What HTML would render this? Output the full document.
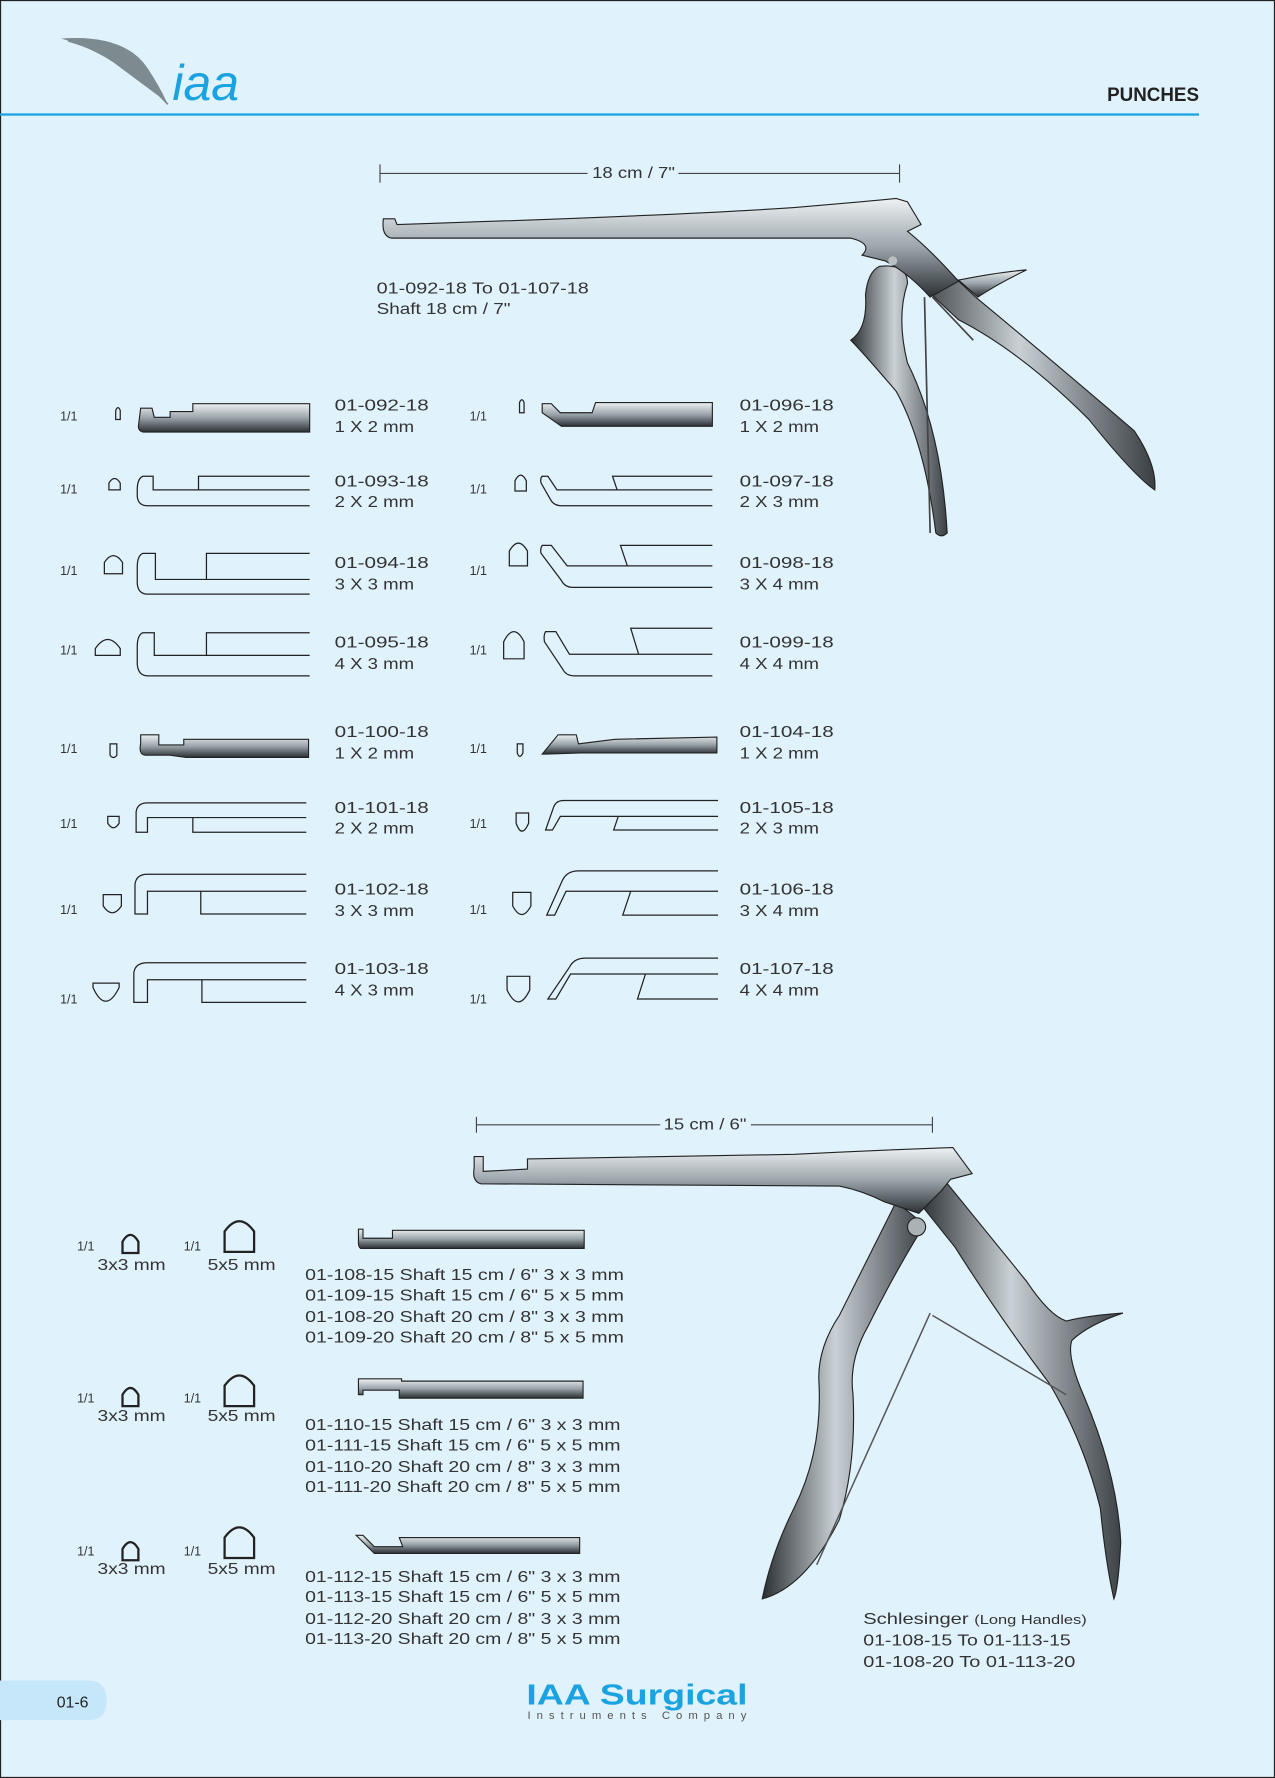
<!DOCTYPE html>
<html><head><meta charset="utf-8"><style>
html,body{margin:0;padding:0;background:#e0f2fc;}
svg{display:block}
text{font-family:"Liberation Sans",sans-serif;fill:#333;}
.l{font-size:13.5px;}
.s{font-size:11px}
.o{fill:none;stroke:#222;stroke-width:1.1}
</style></head><body>
<svg width="1275" height="1778" viewBox="0 0 1124 1568" preserveAspectRatio="none" xmlns="http://www.w3.org/2000/svg">
<defs>
<linearGradient id="g" x1="0" y1="0" x2="0" y2="1"><stop offset="0" stop-color="#eef2f4"/><stop offset=".5" stop-color="#9aa4aa"/><stop offset="1" stop-color="#2a2f33"/></linearGradient>
<linearGradient id="h" x1="0" y1="0" x2="1" y2="0"><stop offset="0" stop-color="#2a2f33"/><stop offset=".45" stop-color="#c9d1d6"/><stop offset="1" stop-color="#3a3f44"/></linearGradient>
</defs>
<rect x="0" y="0" width="1124" height="1568" fill="#e0f2fc" stroke="#222" stroke-width="2"/>
<path d="M54,34 Q110,30 130,60 Q140,75 147,90 Q120,70 100,55 Q80,42 54,34Z" fill="#7d8a90"/>
<path d="M60,36 Q110,50 148,92" stroke="#7d8a90" stroke-width="1.5" fill="none"/>
<text x="152" y="88" style="font-size:44px;font-style:italic;fill:#1aa3e0;font-family:'Liberation Sans',sans-serif">iaa</text>
<text x="976" y="89" style="font-size:17px;font-weight:bold;fill:#222" textLength="81" lengthAdjust="spacingAndGlyphs">PUNCHES</text>
<rect x="0" y="100" width="1057" height="2" fill="#1aa3e0"/>

<path d="M335,145V161M335,153H518M598,153H793M793,145V161" stroke="#444" stroke-width="1"/>
<text x="522" y="157" class="l" textLength="73" lengthAdjust="spacingAndGlyphs">18 cm / 7"</text>
<path d="M800,205 L860,262 Q930,320 1000,380 Q1020,410 1018,432 Q1000,420 960,370 Q900,310 845,282 L800,240Z" fill="url(#h)" stroke="#222"/>
<path d="M845,247 Q880,240 905,238 Q880,250 862,262Z" fill="url(#g)" stroke="#222"/>
<path d="M775,235 Q800,232 800,250 Q790,280 800,320 Q830,380 835,470 Q830,475 825,470 Q815,390 790,345 Q760,310 750,300 Q765,290 763,260 Q765,240 775,235Z" fill="url(#h)" stroke="#222"/>
<path d="M815,262 L820,470 M822,262 L858,300" stroke="#444" stroke-width="1.5" fill="none"/>
<path d="M338,193 L348,193 L350,198 Q600,190 700,183 Q760,178 790,175 L800,178 L812,198 L800,204 Q820,220 845,248 L820,262 Q800,240 780,230 L760,225 Q770,215 750,210 L345,210 Q336,208 338,193Z" fill="url(#g)" stroke="#222"/>
<circle cx="787" cy="230" r="4" fill="#b8c0c4"/>
<text x="332" y="259" class="l" textLength="187" lengthAdjust="spacingAndGlyphs">01-092-18 To 01-107-18</text>
<text x="332" y="277" class="l" textLength="118" lengthAdjust="spacingAndGlyphs">Shaft 18 cm / 7"</text>

<g>
<text x="53" y="371" class="s">1/1</text><text x="53" y="435" class="s">1/1</text><text x="53" y="507" class="s">1/1</text><text x="53" y="577" class="s">1/1</text>
<text x="53" y="664" class="s">1/1</text><text x="53" y="730" class="s">1/1</text><text x="53" y="806" class="s">1/1</text><text x="53" y="885" class="s">1/1</text>
<text x="414" y="371" class="s">1/1</text><text x="414" y="435" class="s">1/1</text><text x="414" y="507" class="s">1/1</text><text x="414" y="577" class="s">1/1</text>
<text x="414" y="664" class="s">1/1</text><text x="414" y="730" class="s">1/1</text><text x="414" y="806" class="s">1/1</text><text x="414" y="885" class="s">1/1</text>
</g>
<g class="l">
<text x="295" y="362" textLength="83" lengthAdjust="spacingAndGlyphs">01-092-18</text><text x="295" y="381" textLength="70" lengthAdjust="spacingAndGlyphs">1 X 2 mm</text>
<text x="295" y="429" textLength="83" lengthAdjust="spacingAndGlyphs">01-093-18</text><text x="295" y="447" textLength="70" lengthAdjust="spacingAndGlyphs">2 X 2 mm</text>
<text x="295" y="501" textLength="83" lengthAdjust="spacingAndGlyphs">01-094-18</text><text x="295" y="520" textLength="70" lengthAdjust="spacingAndGlyphs">3 X 3 mm</text>
<text x="295" y="571" textLength="83" lengthAdjust="spacingAndGlyphs">01-095-18</text><text x="295" y="590" textLength="70" lengthAdjust="spacingAndGlyphs">4 X 3 mm</text>
<text x="295" y="650" textLength="83" lengthAdjust="spacingAndGlyphs">01-100-18</text><text x="295" y="669" textLength="70" lengthAdjust="spacingAndGlyphs">1 X 2 mm</text>
<text x="295" y="717" textLength="83" lengthAdjust="spacingAndGlyphs">01-101-18</text><text x="295" y="735" textLength="70" lengthAdjust="spacingAndGlyphs">2 X 2 mm</text>
<text x="295" y="789" textLength="83" lengthAdjust="spacingAndGlyphs">01-102-18</text><text x="295" y="808" textLength="70" lengthAdjust="spacingAndGlyphs">3 X 3 mm</text>
<text x="295" y="859" textLength="83" lengthAdjust="spacingAndGlyphs">01-103-18</text><text x="295" y="878" textLength="70" lengthAdjust="spacingAndGlyphs">4 X 3 mm</text>
<text x="652" y="362" textLength="83" lengthAdjust="spacingAndGlyphs">01-096-18</text><text x="652" y="381" textLength="70" lengthAdjust="spacingAndGlyphs">1 X 2 mm</text>
<text x="652" y="429" textLength="83" lengthAdjust="spacingAndGlyphs">01-097-18</text><text x="652" y="447" textLength="70" lengthAdjust="spacingAndGlyphs">2 X 3 mm</text>
<text x="652" y="501" textLength="83" lengthAdjust="spacingAndGlyphs">01-098-18</text><text x="652" y="520" textLength="70" lengthAdjust="spacingAndGlyphs">3 X 4 mm</text>
<text x="652" y="571" textLength="83" lengthAdjust="spacingAndGlyphs">01-099-18</text><text x="652" y="590" textLength="70" lengthAdjust="spacingAndGlyphs">4 X 4 mm</text>
<text x="652" y="650" textLength="83" lengthAdjust="spacingAndGlyphs">01-104-18</text><text x="652" y="669" textLength="70" lengthAdjust="spacingAndGlyphs">1 X 2 mm</text>
<text x="652" y="717" textLength="83" lengthAdjust="spacingAndGlyphs">01-105-18</text><text x="652" y="735" textLength="70" lengthAdjust="spacingAndGlyphs">2 X 3 mm</text>
<text x="652" y="789" textLength="83" lengthAdjust="spacingAndGlyphs">01-106-18</text><text x="652" y="808" textLength="70" lengthAdjust="spacingAndGlyphs">3 X 4 mm</text>
<text x="652" y="859" textLength="83" lengthAdjust="spacingAndGlyphs">01-107-18</text><text x="652" y="878" textLength="70" lengthAdjust="spacingAndGlyphs">4 X 4 mm</text>
</g>
<g class="o">
<path d="M102,370V362Q104,357 106,362V370Z"/>
<path d="M96,432V426Q101,418 106,426V432Z"/>
<path d="M92,506V496Q100,484 108,496V506Z"/>
<path d="M84,578V572Q95,556 106,572V578Z"/>
<path d="M458,364V355Q460,350 462,355V364Z"/>
<path d="M454,433V424Q459,414 464,424V433Z"/>
<path d="M449,499V486Q457,472 465,486V499Z"/>
<path d="M444,581V566Q453,548 462,566V581Z"/>
<path d="M97,656V666Q100,670 103,666V656Z"/>
<path d="M95,720V726Q100,734 105,726V720Z"/>
<path d="M91,789V799Q99,811 107,799V789Z"/>
<path d="M82,867V871Q93,895 105,871V867Z"/>
<path d="M456,656V664Q458,670 461,664V656Z"/>
<path d="M455,717V726Q460,740 466,726V717Z"/>
<path d="M452,787V799Q460,814 468,799V787Z"/>
<path d="M447,861V873Q457,894 467,873V861Z"/>
</g>
<path d="M124,360L134,360L136,368L150,368L150,363L170,363L170,356L273,356L273,381L126,381Q122,380 122,376Z" fill="url(#g)" stroke="#222"/>
<path d="M478,356L486,356L494,364L522,364L525,355L628,355L628,376L495,376L478,364Z" fill="url(#g)" stroke="#222"/>
<path d="M124,648L140,648L140,657L162,657L162,652L272,652L272,668L164,668L150,666L128,666Q122,665 124,656Z" fill="url(#g)" stroke="#222"/>
<path d="M478,665L492,648L508,648L510,656L542,652L632,650L632,664L512,664L482,665Z" fill="url(#g)" stroke="#222"/>
<g class="o">
<path d="M273,420H175V432M273,432H135V420H126Q121,422 121,432V438Q122,446 130,446H273"/>
<path d="M273,488H182V511M273,511H137V488H126Q121,490 121,500V515Q122,524 130,524H273"/>
<path d="M273,558H182V578M273,578H136V558H126Q121,560 121,570V586Q122,596 130,596H273"/>
<path d="M628,420H540L544,432M628,432H491L483,420H478Q476,422 477,426L485,440Q488,446 495,446H628"/>
<path d="M628,481H547L553,499M628,499H500L486,481H478Q476,484 477,488L495,512Q498,518 505,518H628"/>
<path d="M628,554H556L563,577M628,577H502L490,557H481Q479,560 480,566L496,590Q499,596 506,596H628"/>
<path d="M270,708H130Q121,708 120,716V734H130V721H270M170,721V734H270"/>
<path d="M270,771H130Q120,771 119,780V806H130V786H270M177,786V806H270"/>
<path d="M270,849H130Q119,849 118,858V884H130V864H270M178,864V884H270"/>
<path d="M633,706H497Q490,706 488,712L481,732H487L494,720H633M545,720L541,732H633"/>
<path d="M633,768H510Q500,768 496,776L482,807H489L499,786H633M556,786L549,807H633"/>
<path d="M633,845H516Q506,845 502,853L483,881H490L503,859H633M569,859L562,881H633"/>
</g>

<path d="M420,985V999M420,992H582M662,992H822M822,985V999" stroke="#444" stroke-width="1"/>
<text x="585" y="996" class="l" textLength="73" lengthAdjust="spacingAndGlyphs">15 cm / 6"</text>
<path d="M832,1040 L905,1130 Q925,1160 940,1165 Q960,1160 990,1158 Q960,1168 945,1182 Q940,1195 955,1230 Q985,1300 988,1360 Q986,1400 982,1410 Q975,1380 970,1330 Q955,1270 925,1220 Q880,1160 842,1100 L810,1060Z" fill="url(#h)" stroke="#222"/>
<path d="M790,1060 L815,1080 Q790,1120 765,1170 Q748,1200 752,1230 Q755,1290 740,1340 Q710,1400 672,1410 Q680,1370 700,1330 Q725,1280 722,1220 Q720,1190 740,1160 Q765,1110 790,1060Z" fill="url(#h)" stroke="#222"/>
<path d="M820,1158L720,1380M822,1160L940,1230" stroke="#555" stroke-width="1.3" fill="none"/>
<path d="M418,1020L426,1020L426,1033L465,1031L465,1022L700,1018Q780,1014 840,1012L857,1035L838,1040L830,1050Q820,1060 810,1070L780,1060Q760,1050 740,1046L424,1044Q416,1042 418,1030Z" fill="url(#g)" stroke="#222"/>
<circle cx="808" cy="1082" r="8" fill="#aab2b6" stroke="#222"/>
<g class="o" style="stroke-width:2">
<path d="M108,1105V1095Q115,1083 122,1095V1105Z"/>
<path d="M198,1104V1086Q211,1068 224,1086V1104Z"/>
<path d="M108,1240V1230Q115,1218 122,1230V1240Z"/>
<path d="M198,1240V1222Q211,1204 224,1222V1240Z"/>
<path d="M108,1376V1366Q115,1354 122,1366V1376Z"/>
<path d="M198,1374V1356Q211,1338 224,1356V1374Z"/>
</g>
<g class="s"><text x="68" y="1103">1/1</text><text x="162" y="1103">1/1</text><text x="68" y="1237">1/1</text><text x="162" y="1237">1/1</text><text x="68" y="1372">1/1</text><text x="162" y="1372">1/1</text>
<text x="86" y="1120" class="l" textLength="60" lengthAdjust="spacingAndGlyphs">3x3 mm</text><text x="183" y="1120" class="l" textLength="60" lengthAdjust="spacingAndGlyphs">5x5 mm</text>
<text x="86" y="1253" class="l" textLength="60" lengthAdjust="spacingAndGlyphs">3x3 mm</text><text x="183" y="1253" class="l" textLength="60" lengthAdjust="spacingAndGlyphs">5x5 mm</text>
<text x="86" y="1388" class="l" textLength="60" lengthAdjust="spacingAndGlyphs">3x3 mm</text><text x="183" y="1388" class="l" textLength="60" lengthAdjust="spacingAndGlyphs">5x5 mm</text></g>
<path d="M316,1084H320V1092H346V1085H515V1101H318Q316,1100 316,1096Z" fill="url(#g)" stroke="#222"/>
<path d="M316,1216H354V1218H514V1233H352V1226H320V1230H316Z" fill="url(#g)" stroke="#222"/>
<path d="M314,1354H320L330,1364H355L352,1356H511V1370H330Z" fill="url(#g)" stroke="#222"/>
<g class="l">
<text x="269" y="1129" textLength="281" lengthAdjust="spacingAndGlyphs">01-108-15  Shaft 15 cm /  6"  3 x 3 mm</text>
<text x="269" y="1147" textLength="281" lengthAdjust="spacingAndGlyphs">01-109-15  Shaft 15 cm /  6"  5 x 5 mm</text>
<text x="269" y="1166" textLength="281" lengthAdjust="spacingAndGlyphs">01-108-20  Shaft 20 cm / 8"  3 x 3 mm</text>
<text x="269" y="1184" textLength="281" lengthAdjust="spacingAndGlyphs">01-109-20  Shaft 20 cm / 8"  5 x 5 mm</text>
<text x="269" y="1261" textLength="278" lengthAdjust="spacingAndGlyphs">01-110-15  Shaft 15 cm /  6"  3 x 3 mm</text>
<text x="269" y="1279" textLength="278" lengthAdjust="spacingAndGlyphs">01-111-15  Shaft 15 cm /  6"  5 x 5 mm</text>
<text x="269" y="1298" textLength="278" lengthAdjust="spacingAndGlyphs">01-110-20  Shaft 20 cm / 8"  3 x 3 mm</text>
<text x="269" y="1316" textLength="278" lengthAdjust="spacingAndGlyphs">01-111-20  Shaft 20 cm / 8"  5 x 5 mm</text>
<text x="269" y="1395" textLength="278" lengthAdjust="spacingAndGlyphs">01-112-15  Shaft 15 cm /  6"  3 x 3 mm</text>
<text x="269" y="1413" textLength="278" lengthAdjust="spacingAndGlyphs">01-113-15  Shaft 15 cm /  6"  5 x 5 mm</text>
<text x="269" y="1432" textLength="278" lengthAdjust="spacingAndGlyphs">01-112-20  Shaft 20 cm / 8"  3 x 3 mm</text>
<text x="269" y="1450" textLength="278" lengthAdjust="spacingAndGlyphs">01-113-20  Shaft 20 cm / 8"  5 x 5 mm</text>
<text x="761" y="1432" textLength="197" lengthAdjust="spacingAndGlyphs">Schlesinger <tspan style="font-size:11px">(Long Handles)</tspan></text>
<text x="761" y="1451" textLength="183" lengthAdjust="spacingAndGlyphs">01-108-15 To 01-113-15</text>
<text x="761" y="1470" textLength="187" lengthAdjust="spacingAndGlyphs">01-108-20 To 01-113-20</text>
</g>
<path d="M0,1482H78Q94,1482 94,1500Q94,1517 78,1517H0Z" fill="#c5e7f9"/>
<text x="50" y="1506" style="font-size:14px;fill:#222">01-6</text>
<text x="464" y="1503" style="font-size:25px;font-weight:bold;fill:#1aa3e0" textLength="195" lengthAdjust="spacingAndGlyphs">IAA Surgical</text>
<text x="465" y="1516" style="font-size:10px;fill:#555" textLength="193">Instruments Company</text>
</svg>
</body></html>
